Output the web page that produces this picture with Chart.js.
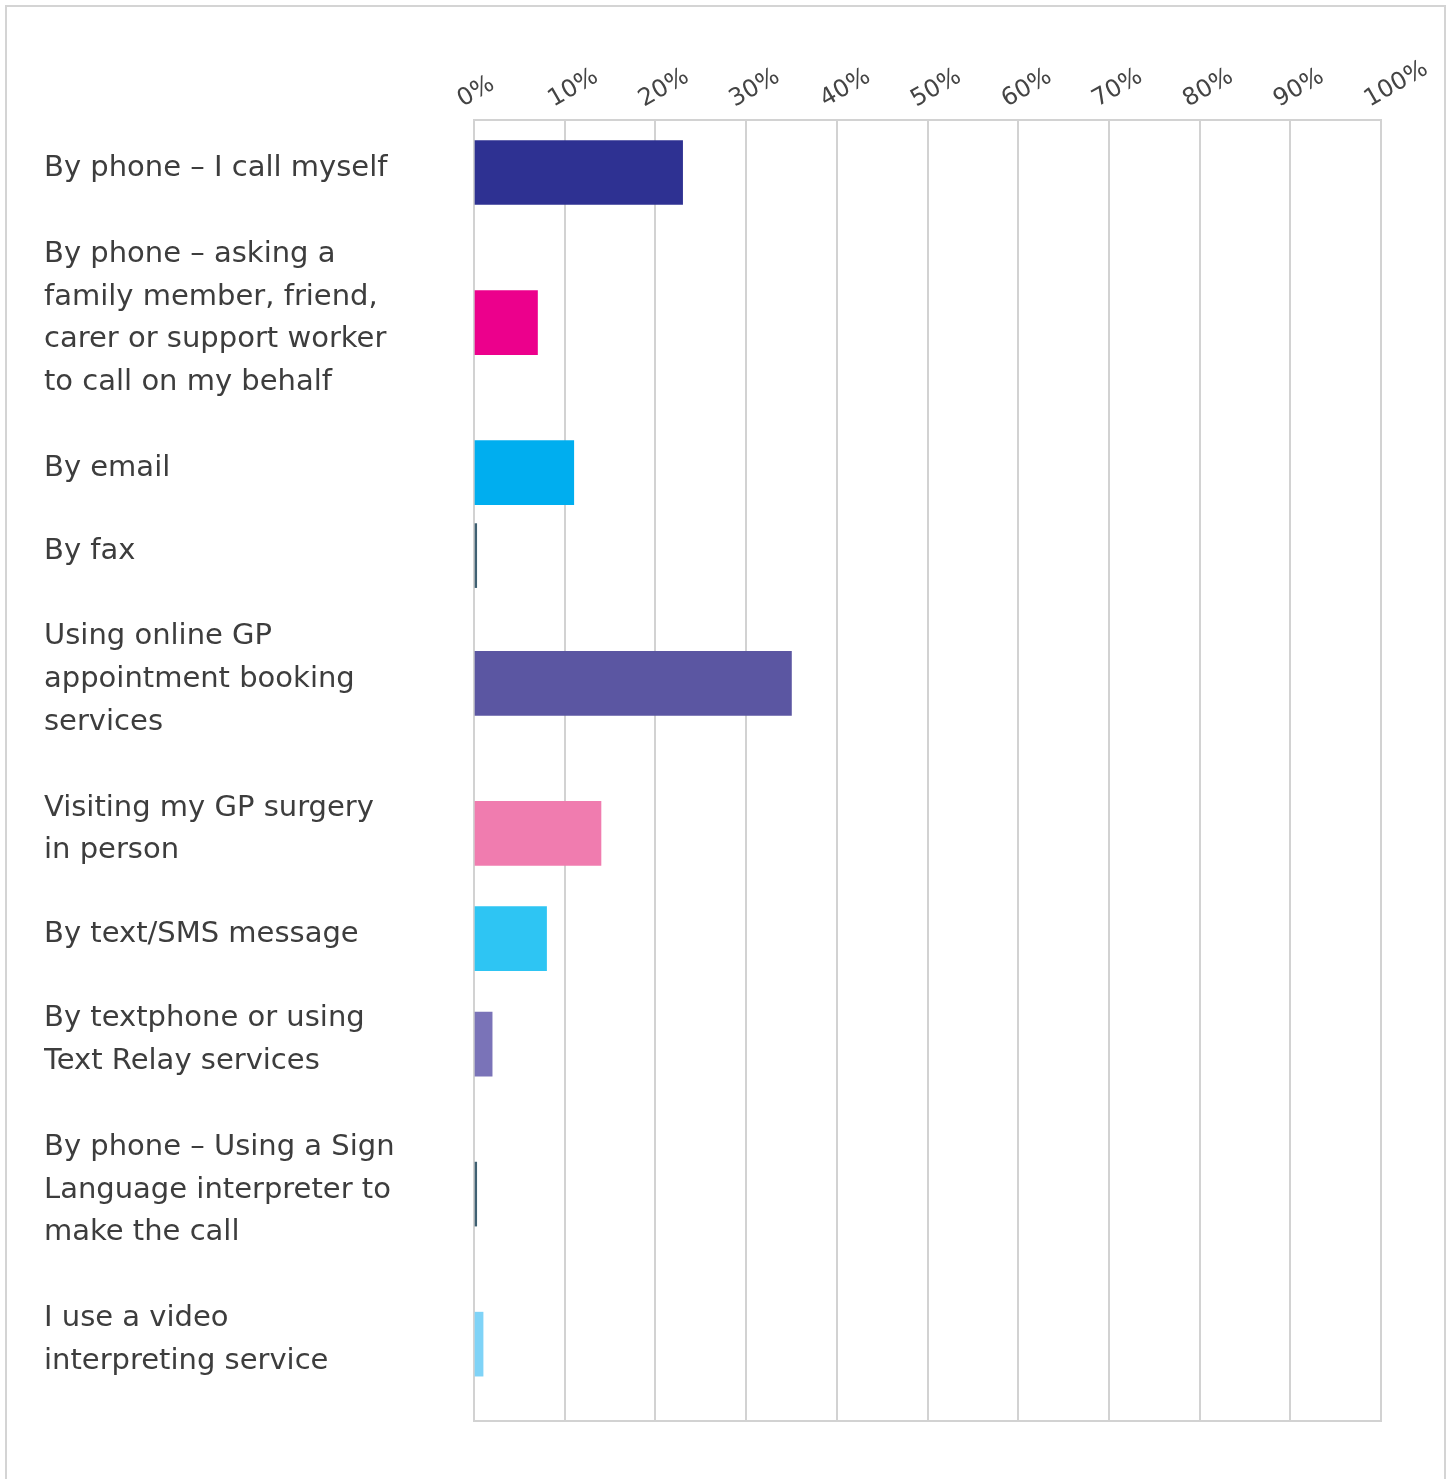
<!DOCTYPE html>
<html lang="en">
<head>
  <meta charset="UTF-8" />
  <title>Ways of contacting the GP surgery</title>
  <script src="https://cdn.jsdelivr.net/npm/chart.js"></script>
  <style>
    body { margin: 0; background: #fff; }
    .wrap { position: relative; width: 1454px; height: 1479px; overflow: hidden; }
    .frame { position: absolute; left: 5px; top: 5px; width: 1441px; height: 1500px; border: 2px solid #d4d4d4; box-sizing: border-box; }
    canvas { position: absolute; left: 0; top: 0; }
  </style>
</head>
<body>
  <div class="wrap">
    <div class="frame"></div>
    <canvas id="contactChart" width="1454" height="1479"></canvas>
  </div>

  <script>
    // categories, one entry per line of the label
    const categories = [
      ['By phone – I call myself'],
      ['By phone – asking a', 'family member, friend,', 'carer or support worker', 'to call on my behalf'],
      ['By email'],
      ['By fax'],
      ['Using online GP', 'appointment booking', 'services'],
      ['Visiting my GP surgery', 'in person'],
      ['By text/SMS message'],
      ['By textphone or using', 'Text Relay services'],
      ['By phone – Using a Sign', 'Language interpreter to', 'make the call'],
      ['I use a video', 'interpreting service']
    ];

    // share of respondents (%)
    const shares = [23, 7, 11, 0.3, 35, 14, 8, 2, 0.3, 1];

    const tickValues = [0, 10, 20, 30, 40, 50, 60, 70, 80, 90, 100];

    const barColors = ['#2e3192', '#ec008c', '#00aeef', '#3f6072', '#5b56a2',
                       '#f07caf', '#2ec5f3', '#7a73b8', '#3f6072', '#7fd3f7'];

    // each row gets room for its label lines, so rows are not evenly spaced
    const LINE_H = 44.7, ROW_GAP = 38.3, TOP_PAD = 11, BOTTOM_PAD = 13;
    const rowCenters = [];
    let acc = TOP_PAD;
    categories.forEach(lines => {
      const slot = lines.length * LINE_H + ROW_GAP;
      rowCenters.push(acc + slot / 2);
      acc += slot;
    });
    const rowMax = acc + BOTTOM_PAD;

    const textColor = '#3d3d3d';
    const gridColor = '#d2d2d2';
    const fontFamily = '"DejaVu Sans", sans-serif';

    new Chart(document.getElementById('contactChart'), {
      type: 'bar',
      data: {
        datasets: [{
          data: shares.map((v, i) => ({ x: v, y: rowCenters[i] })),
          backgroundColor: barColors,
          barThickness: 64,
          borderWidth: 0
        }]
      },
      options: {
        indexAxis: 'y',
        responsive: false,
        animation: false,
        layout: { padding: { left: 44, right: 73, top: 0, bottom: 58 } },
        plugins: {
          legend: { display: false },
          tooltip: { enabled: false }
        },
        scales: {
          x: {
            type: 'linear',
            position: 'top',
            min: 0,
            max: 100,
            afterBuildTicks: s => { s.ticks = tickValues.map(v => ({ value: v })); },
            afterFit: s => { s.height = 120; s.paddingLeft = 0; s.paddingRight = 0; },
            grid: { color: gridColor, lineWidth: 2, drawTicks: false },
            border: { display: true, color: gridColor, width: 2 },
            ticks: {
              autoSkip: false,
              minRotation: 30,
              maxRotation: 30,
              padding: 6,
              labelOffset: 0,
              color: '#444',
              font: { family: fontFamily, size: 24 },
              callback: v => v + '%'
            }
          },
          x2: {
            type: 'linear',
            position: 'bottom',
            min: 0,
            max: 100,
            afterFit: s => { s.height = 0; s.paddingLeft = 0; s.paddingRight = 0; },
            grid: { display: false },
            border: { display: true, color: gridColor, width: 2 },
            ticks: { display: false }
          },
          y: {
            type: 'linear',
            reverse: true,
            offset: false,
            min: 0,
            max: rowMax,
            afterBuildTicks: s => { s.ticks = rowCenters.map(v => ({ value: v })); },
            afterFit: s => { s.width = 430; s.paddingTop = 0; s.paddingBottom = 0; },
            grid: { display: false },
            border: { display: true, color: gridColor, width: 2 },
            ticks: {
              autoSkip: false,
              crossAlign: 'far',
              labelOffset: -4,
              color: textColor,
              font: { family: fontFamily, size: 29, lineHeight: 1.472 },
              callback: (v, i) => categories[i]
            }
          }
        }
      }
    });
  </script>
</body>
</html>
